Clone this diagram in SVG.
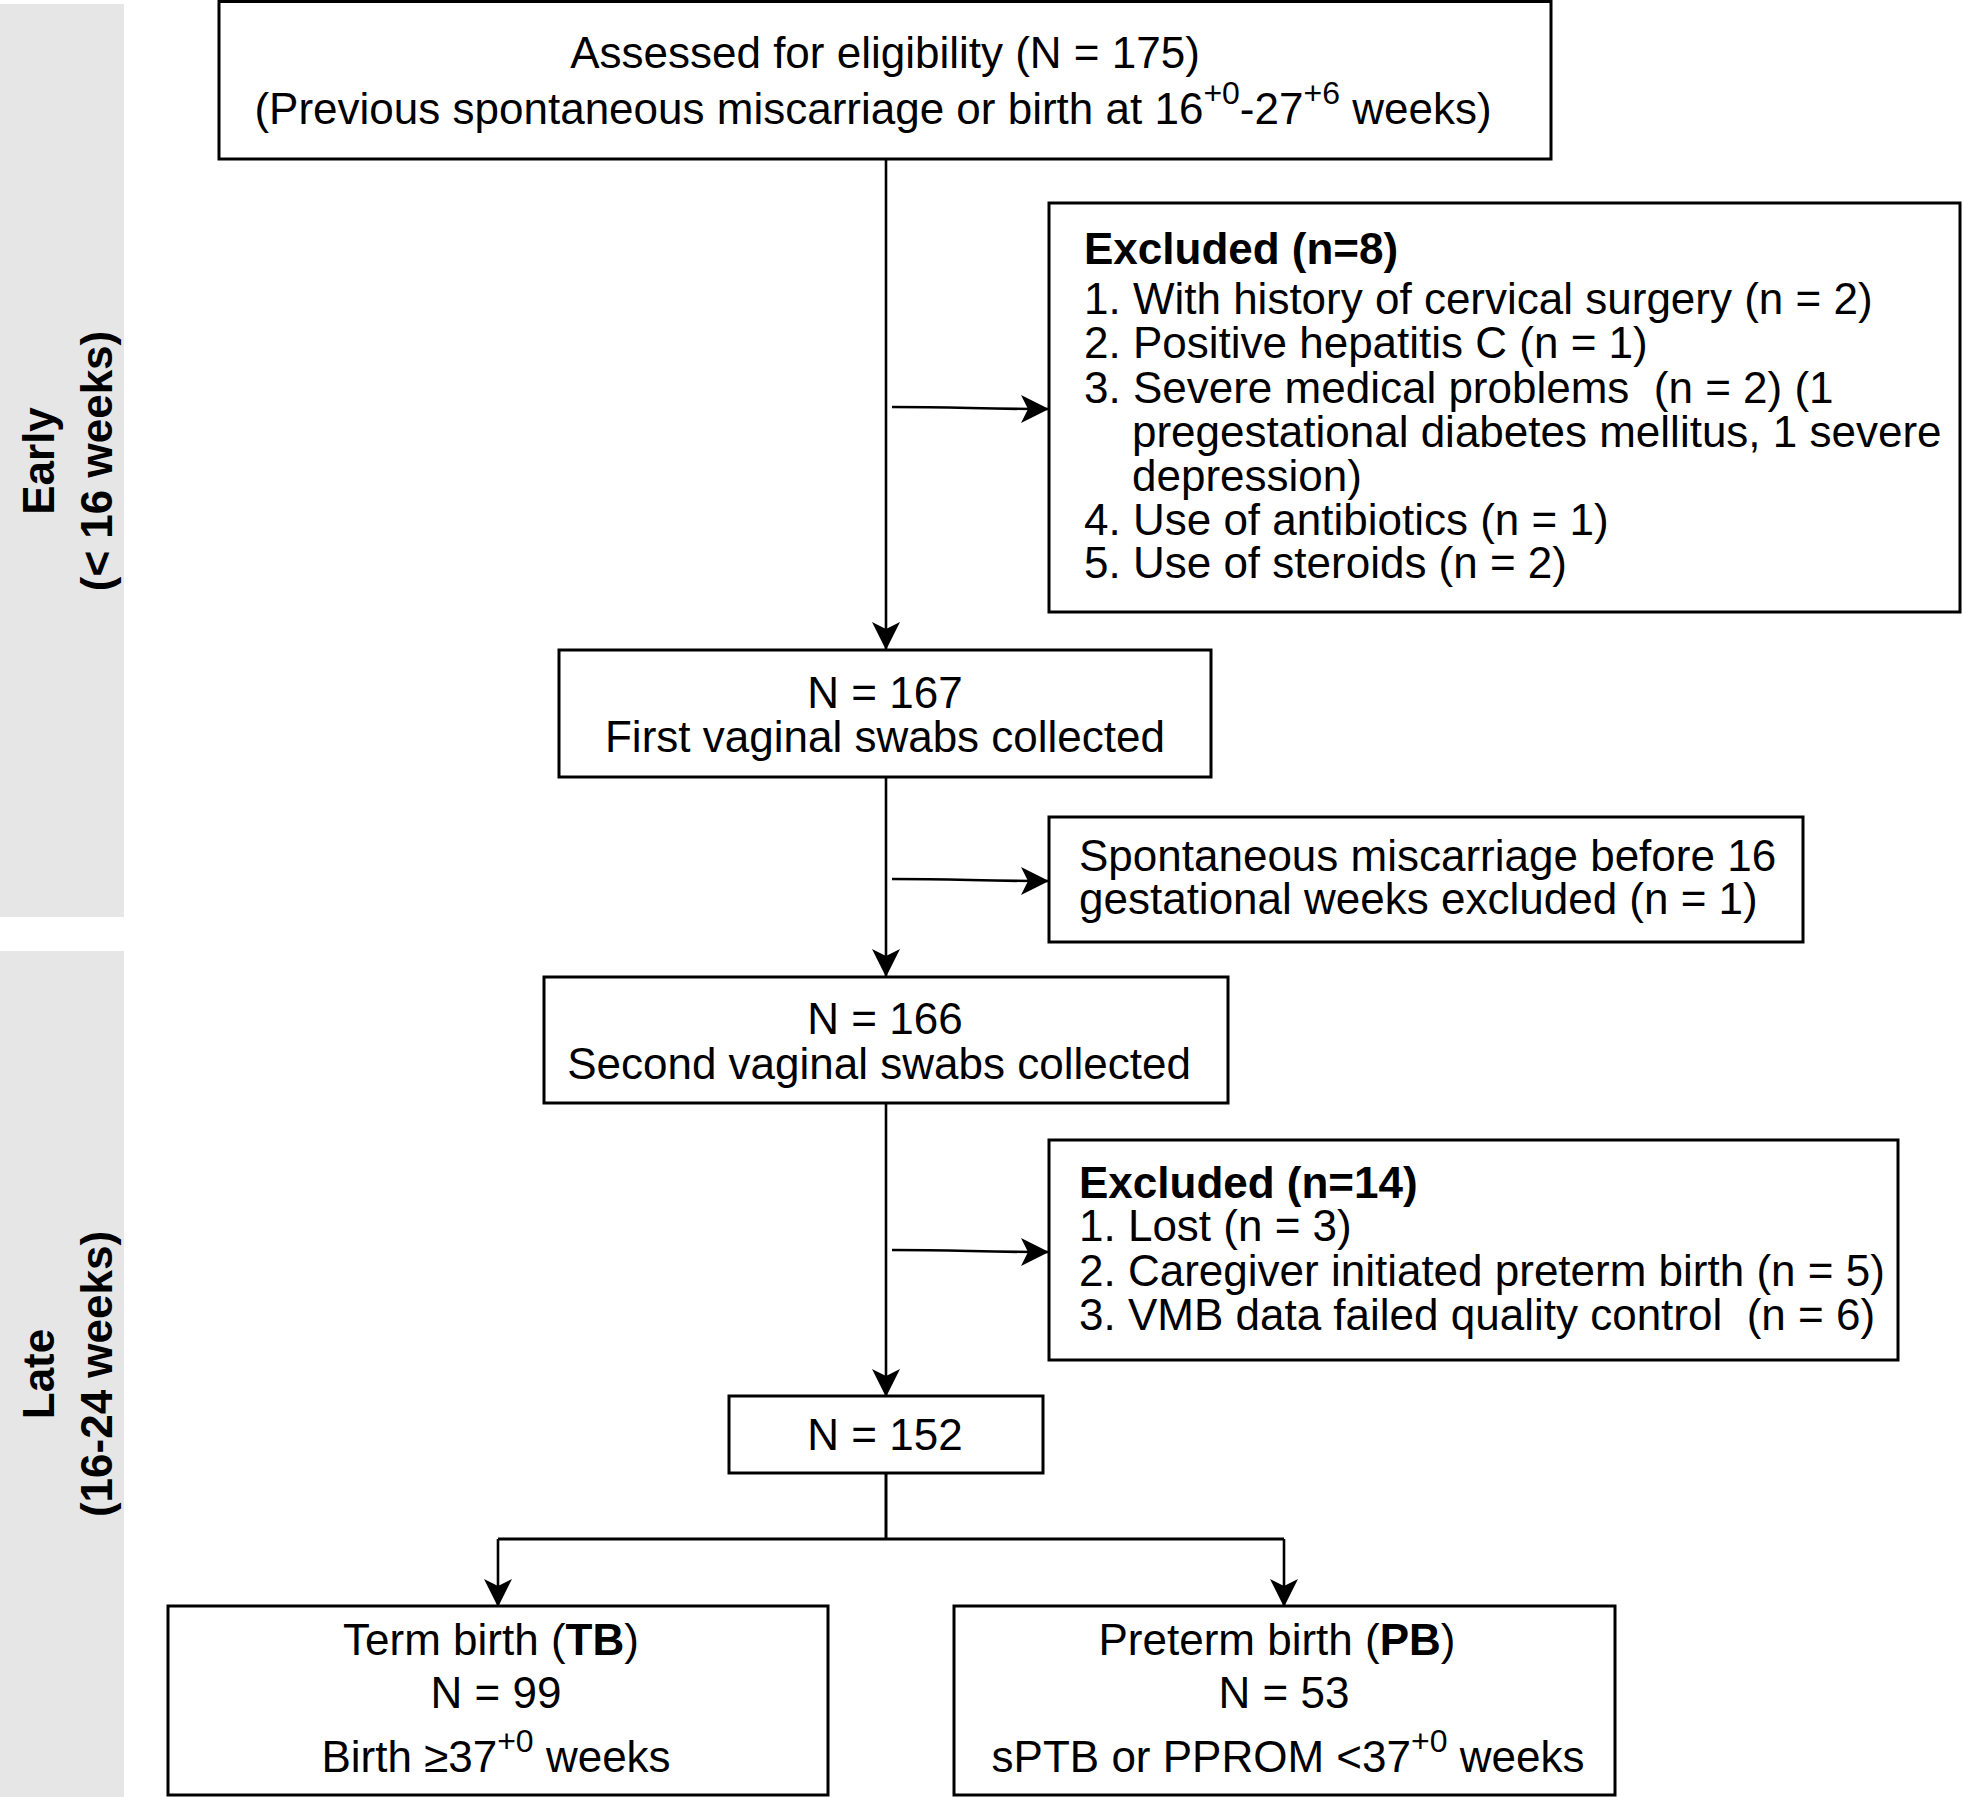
<svg xmlns="http://www.w3.org/2000/svg" width="1963" height="1797" viewBox="0 0 1963 1797">
<style>
  .box { fill: #ffffff; stroke: #000000; stroke-width: 3; }
  .band { fill: #e6e6e6; stroke: none; }
  .t { font-family: "Liberation Sans", Arial, sans-serif; font-size: 44px; fill: #000000; }
  .c { text-anchor: middle; }
  .b { font-weight: bold; }
  .side { font-family: "Liberation Sans", Arial, sans-serif; font-size: 44px; font-weight: bold; fill: #000000; text-anchor: middle; }
  .sup { font-size: 32px; }
  .conn { fill: none; stroke: #000000; stroke-width: 2.6; }
</style>
<defs>
  <marker id="arr" viewBox="0 0 28 28" refX="27" refY="14" markerWidth="28" markerHeight="28" markerUnits="userSpaceOnUse" orient="auto">
    <path d="M0,0 L28,14 L0,28 L7,14 Z" fill="#000000"/>
  </marker>
</defs>
<rect width="1963" height="1797" fill="#ffffff"/>

<g id="band-early">
  <rect class="band" x="0" y="4" width="124" height="913"/>
  <text class="side" transform="translate(54,461) rotate(-90)">Early</text>
  <text class="side" transform="translate(112,461) rotate(-90)">(&lt; 16 weeks)</text>
</g>
<g id="band-late">
  <rect class="band" x="0" y="951" width="124" height="846"/>
  <text class="side" transform="translate(54,1374) rotate(-90)">Late</text>
  <text class="side" transform="translate(112,1374) rotate(-90)">(16-24 weeks)</text>
</g>

<g id="connectors">
  <path class="conn" d="M886,159 V649" marker-end="url(#arr)"/>
  <path class="conn" d="M892,407 C960,407 980,409 1048,409" marker-end="url(#arr)"/>
  <path class="conn" d="M886,777 V976" marker-end="url(#arr)"/>
  <path class="conn" d="M892,879 C960,879 980,881 1048,881" marker-end="url(#arr)"/>
  <path class="conn" d="M886,1103 V1396" marker-end="url(#arr)"/>
  <path class="conn" d="M892,1250 C960,1250 980,1252 1048,1252" marker-end="url(#arr)"/>
  <path class="conn" d="M886,1474 V1539" style="stroke-width:3"/>
  <path class="conn" d="M498,1539 H1284" style="stroke-width:3"/>
  <path class="conn" d="M498,1539 V1606" marker-end="url(#arr)"/>
  <path class="conn" d="M1284,1539 V1606" marker-end="url(#arr)"/>
</g>

<g id="assessed">
  <rect class="box" x="219" y="1.5" width="1332" height="157.5"/>
  <text class="t c" x="885" y="68">Assessed for eligibility (N = 175)</text>
  <text class="t c" x="873" y="124">(Previous spontaneous miscarriage or birth at 16<tspan class="sup" dy="-20">+0</tspan><tspan dy="20">-27</tspan><tspan class="sup" dy="-20">+6</tspan><tspan dy="20"> weeks)</tspan></text>
</g>

<g id="excluded1">
  <rect class="box" x="1049" y="203" width="911" height="409"/>
  <text class="t b" x="1084" y="264">Excluded (n=8)</text>
  <text class="t" x="1084" y="314">1. With history of cervical surgery (n = 2)</text>
  <text class="t" x="1084" y="358">2. Positive hepatitis C (n = 1)</text>
  <text class="t" x="1084" y="403" xml:space="preserve">3. Severe medical problems  (n = 2) (1</text>
  <text class="t" x="1132" y="447">pregestational diabetes mellitus, 1 severe</text>
  <text class="t" x="1132" y="491">depression)</text>
  <text class="t" x="1084" y="535">4. Use of antibiotics (n = 1)</text>
  <text class="t" x="1084" y="578">5. Use of steroids (n = 2)</text>
</g>

<g id="first-swabs">
  <rect class="box" x="559" y="650" width="652" height="127"/>
  <text class="t c" x="885" y="708">N = 167</text>
  <text class="t c" x="885" y="752">First vaginal swabs collected</text>
</g>

<g id="miscarriage">
  <rect class="box" x="1049" y="817" width="754" height="125"/>
  <text class="t" x="1079" y="871">Spontaneous miscarriage before 16</text>
  <text class="t" x="1079" y="914">gestational weeks excluded (n = 1)</text>
</g>

<g id="second-swabs">
  <rect class="box" x="544" y="977" width="684" height="126"/>
  <text class="t c" x="885" y="1034">N = 166</text>
  <text class="t c" x="879" y="1079">Second vaginal swabs collected</text>
</g>

<g id="excluded2">
  <rect class="box" x="1049" y="1140" width="849" height="220"/>
  <text class="t b" x="1079" y="1198">Excluded (n=14)</text>
  <text class="t" x="1079" y="1241">1. Lost (n = 3)</text>
  <text class="t" x="1079" y="1286">2. Caregiver initiated preterm birth (n = 5)</text>
  <text class="t" x="1079" y="1330" xml:space="preserve">3. VMB data failed quality control  (n = 6)</text>
</g>

<g id="n152">
  <rect class="box" x="729" y="1396" width="314" height="77"/>
  <text class="t c" x="885" y="1450">N = 152</text>
</g>

<g id="term-birth">
  <rect class="box" x="168" y="1606" width="660" height="189"/>
  <text class="t c" x="491" y="1655">Term birth (<tspan class="b">TB</tspan>)</text>
  <text class="t c" x="496" y="1708">N = 99</text>
  <text class="t c" x="496" y="1772">Birth ≥37<tspan class="sup" dy="-20">+0</tspan><tspan dy="20"> weeks</tspan></text>
</g>

<g id="preterm-birth">
  <rect class="box" x="954" y="1606" width="661" height="189"/>
  <text class="t c" x="1277" y="1655">Preterm birth (<tspan class="b">PB</tspan>)</text>
  <text class="t c" x="1284" y="1708">N = 53</text>
  <text class="t c" x="1288" y="1772">sPTB or PPROM &lt;37<tspan class="sup" dy="-20">+0</tspan><tspan dy="20"> weeks</tspan></text>
</g>
</svg>
